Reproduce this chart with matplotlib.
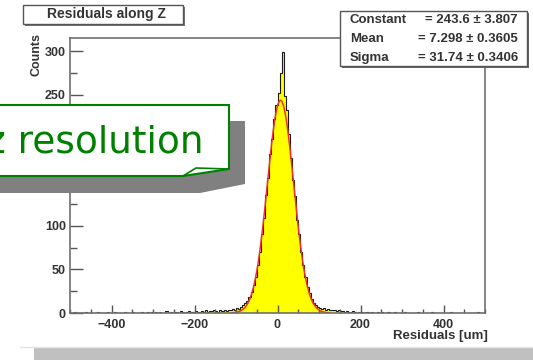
import matplotlib
matplotlib.use("Agg")
import matplotlib.pyplot as plt
import numpy as np
from matplotlib.patches import Polygon, Rectangle
from matplotlib.ticker import MultipleLocator

# histogram of residuals, 5 um bins from -500 to 500
bin_lo, bin_hi, bin_width = -500, 500, 5
counts = [
    0, 0, 1, 0, 0, 0, 0, 1, 0, 0,
    0, 0, 0, 1, 0, 0, 0, 0, 1, 0,
    0, 1, 0, 0, 0, 0, 1, 0, 0, 0,
    1, 0, 0, 0, 1, 0, 0, 1, 0, 1,
    0, 1, 0, 1, 0, 0, 2, 0, 1, 0,
    1, 1, 0, 2, 1, 0, 1, 2, 1, 1,
    2, 1, 1, 2, 1, 3, 1, 2, 2, 3,
    2, 1, 3, 2, 3, 2, 4, 3, 5, 4,
    6, 5, 7, 9, 11, 14, 18, 24, 32, 41,
    55, 70, 91, 109, 135, 155, 182, 199, 222, 238,
    252, 275, 299, 248, 232, 205, 178, 152, 134, 107,
    90, 70, 55, 41, 30, 23, 16, 12, 9, 7,
    6, 5, 6, 4, 5, 3, 4, 3, 2, 3,
    2, 2, 1, 2, 1, 1, 2, 1, 0, 1,
    1, 0, 1, 1, 0, 1, 0, 0, 1, 0,
    1, 0, 0, 1, 0, 0, 1, 0, 0, 0,
    0, 1, 0, 0, 0, 0, 0, 1, 0, 0,
    0, 0, 0, 0, 1, 0, 0, 0, 0, 0,
    0, 0, 0, 1, 0, 0, 0, 0, 0, 0,
    0, 0, 0, 0, 0, 0, 1, 0, 0, 0,
]

# gaussian fit parameters (stat box)
fit_const, fit_const_err = 243.6, 3.807
fit_mean, fit_mean_err = 7.298, 0.3605
fit_sigma, fit_sigma_err = 31.74, 0.3406
fit_range = (-110, 125)

title = "Residuals along Z"
x_label = "Residuals [um]"
y_label = "Counts"
callout = "z resolution"

W, H = 533, 360
plt.rcParams['font.family'] = ['Liberation Sans', 'DejaVu Sans']

fig = plt.figure(figsize=(W / 100, H / 100), dpi=100)
fig.patch.set_facecolor('white')


def fx(x):
    return x / W


def fy(y):
    return 1 - y / H


ax = fig.add_axes([fx(70), fy(313), fx(485) - fx(70), fy(38) - fy(313)])
edges = np.arange(bin_lo, bin_hi + bin_width, bin_width)
ax.stairs(counts, edges, fill=True, facecolor='#ffff00', edgecolor='none')
ax.stairs(counts, edges, color='#1a1a1a', lw=0.8)

xf = np.linspace(fit_range[0], fit_range[1], 400)
ax.plot(xf, fit_const * np.exp(-0.5 * ((xf - fit_mean) / fit_sigma) ** 2),
        color='#f03030', lw=1.1)

ax.set_xlim(bin_lo, bin_hi)
ax.set_ylim(0, 315)
ax.xaxis.set_major_locator(MultipleLocator(200))
ax.xaxis.set_minor_locator(MultipleLocator(50))
ax.yaxis.set_major_locator(MultipleLocator(50))
ax.yaxis.set_minor_locator(MultipleLocator(25))
ax.tick_params(axis='both', which='both', direction='in', colors='#555555',
               labelcolor='#333333', width=1)
ax.tick_params(axis='x', which='major', length=6, pad=4, labelsize=9)
ax.tick_params(axis='x', which='minor', length=3)
ax.tick_params(axis='y', which='major', length=9, pad=3, labelsize=9)
ax.tick_params(axis='y', which='minor', length=5)
for lab in ax.get_xticklabels() + ax.get_yticklabels():
    lab.set_fontweight('bold')
for s in ax.spines.values():
    s.set_color('#707070')
    s.set_linewidth(1.2)

fig.text(fx(488), fy(336), x_label, ha='right', va='center', fontsize=9.5,
         fontweight='bold', color='#333333')
fig.text(fx(37), fy(33), y_label, ha='center', va='top', rotation=90,
         fontsize=9, fontweight='bold', color='#333333')

# title box
fig.add_artist(Rectangle((fx(25), fy(26)), fx(160), fy(7) - fy(26),
                         transform=fig.transFigure, facecolor='#777777', edgecolor='none', zorder=5))
fig.add_artist(Rectangle((fx(23), fy(24)), fx(160), fy(5) - fy(24),
                         transform=fig.transFigure, facecolor='white', edgecolor='#555555',
                         lw=1, zorder=6))
fig.text(fx(106), fy(14), title, ha='center', va='center', fontsize=10,
         fontweight='bold', color='#333333', zorder=7)

# stat box
fig.add_artist(Rectangle((fx(342), fy(68)), fx(187), fy(13) - fy(68),
                         transform=fig.transFigure, facecolor='#666666', edgecolor='none', zorder=5))
fig.add_artist(Rectangle((fx(340), fy(66)), fx(187), fy(11) - fy(66),
                         transform=fig.transFigure, facecolor='white', edgecolor='#555555',
                         lw=1, zorder=6))
stat_rows = [("Constant", f"= {fit_const} \u00b1 {fit_const_err}", 20),
             ("Mean", f"= {fit_mean} \u00b1 {fit_mean_err}", 39),
             ("Sigma", f"= {fit_sigma} \u00b1 {fit_sigma_err}", 58)]
for name, val, y in stat_rows:
    fig.text(fx(350), fy(y), name, ha='left', va='center', fontsize=9.5,
             fontweight='bold', color='#333333', zorder=7)
    fig.text(fx(518), fy(y), val, ha='right', va='center', fontsize=9.5,
             fontweight='bold', color='#333333', zorder=7)

# callout with shadow
shadow = [(-5, 121), (245, 121), (245, 184), (200, 193), (-5, 193)]
fig.add_artist(Polygon([(fx(a), fy(b)) for a, b in shadow], closed=True,
                       transform=fig.transFigure, facecolor='#808080', edgecolor='none', zorder=8))
box = [(-5, 105), (229, 105), (229, 169), (183, 176), (-5, 176)]
fig.add_artist(Polygon([(fx(a), fy(b)) for a, b in box], closed=True,
                       transform=fig.transFigure, facecolor='white', edgecolor='#008000',
                       lw=1.5, zorder=9))
fold = [(183, 176), (196, 168), (229, 169)]
fig.add_artist(Polygon([(fx(a), fy(b)) for a, b in fold], closed=False, fill=False,
                       transform=fig.transFigure, edgecolor='#008000', lw=1.2, zorder=10))
fig.text(fx(204), fy(152), callout, ha='right', va='baseline', fontsize=27,
         color='#008000', family='DejaVu Sans', zorder=11)

# bottom strip
fig.add_artist(Rectangle((fx(34), 0), 1 - fx(34), fy(348), transform=fig.transFigure,
                         facecolor='#c0c0c0', edgecolor='none', zorder=5))
fig.add_artist(plt.Line2D([fx(20), 1], [fy(347), fy(347)], transform=fig.transFigure,
                          color='#e4e4e4', lw=1, zorder=5))

fig.savefig("out.png", dpi=100)
